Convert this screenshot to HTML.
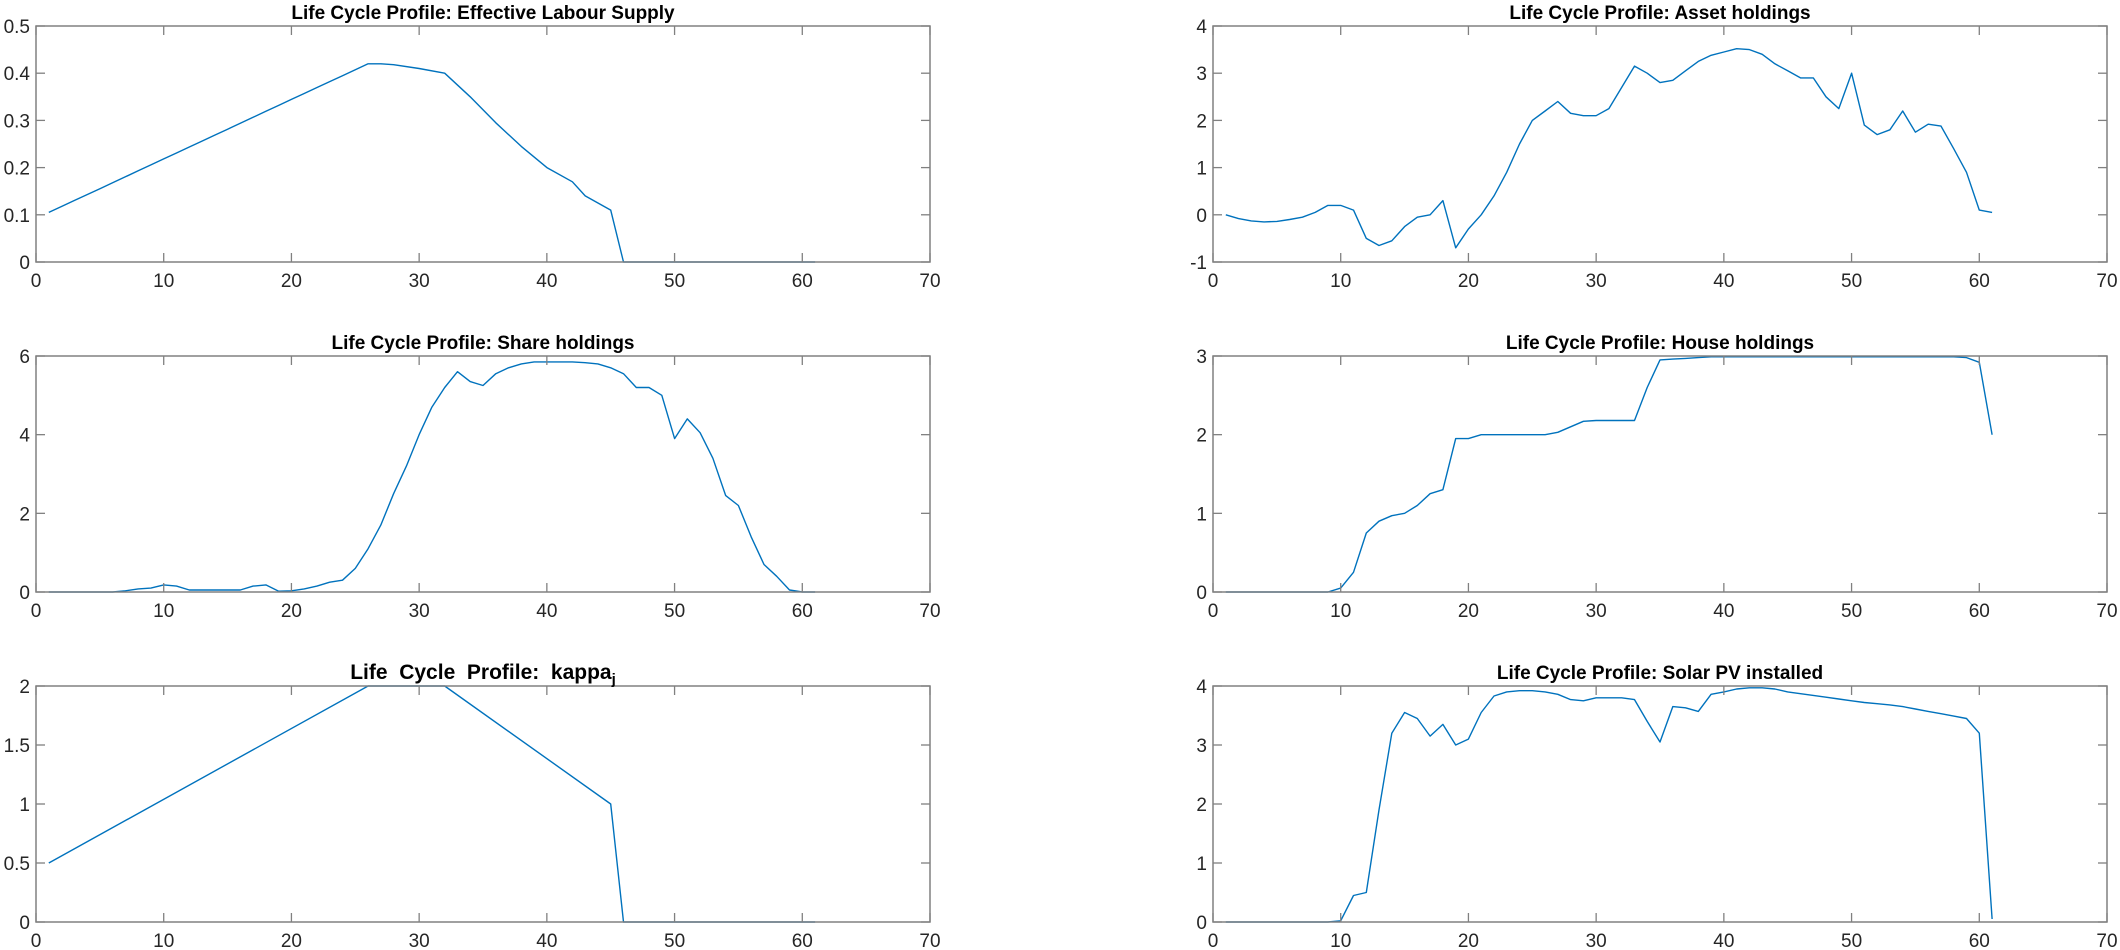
<!DOCTYPE html>
<html><head><meta charset="utf-8"><style>
html,body{margin:0;padding:0;background:#fff;}
svg{display:block;font-family:"Liberation Sans",Arial,sans-serif;}
</style></head><body>
<svg id="s" width="2120" height="950" xmlns="http://www.w3.org/2000/svg"></svg>
<script>
const S=document.getElementById('s');
const NS='http://www.w3.org/2000/svg';
function el(t,a,txt){const e=document.createElementNS(NS,t);for(const k in a)e.setAttribute(k,a[k]);if(txt!==undefined)e.textContent=txt;S.appendChild(e);return e;}
function rng(a,b,f){const r=[];for(let x=a;x<=b;x++)r.push([x,f(x)]);return r;}
const lab=[...rng(1,26,x=>0.105+(0.42-0.105)*(x-1)/25),[27,0.42],[28,0.418],[30,0.41],[32,0.40],[34,0.35],[36,0.295],[38,0.245],[40,0.20],[42,0.17],[43,0.14],[45,0.11],[46,0],[61,0]];
const kap=[[1,0.5],[26,2],[32,2],[45,1],[46,0],[61,0]];
const shv=[0,0,0,0,0,0,0.03,0.08,0.1,0.18,0.15,0.05,0.05,0.05,0.05,0.05,0.15,0.18,0.02,0.03,0.08,0.15,0.25,0.3,0.6,1.1,1.7,2.5,3.2,4.0,4.7,5.2,5.6,5.35,5.25,5.55,5.7,5.8,5.85,5.85,5.85,5.85,5.83,5.8,5.7,5.55,5.2,5.2,5.0,3.9,4.4,4.05,3.4,2.45,2.2,1.4,0.7,0.4,0.05,0,0];
const asv=[0,-0.08,-0.13,-0.15,-0.14,-0.1,-0.05,0.05,0.2,0.2,0.1,-0.5,-0.65,-0.55,-0.25,-0.05,0,0.3,-0.7,-0.3,0,0.4,0.9,1.5,2.0,2.2,2.4,2.15,2.1,2.1,2.25,2.7,3.15,3.0,2.8,2.85,3.05,3.25,3.38,3.45,3.52,3.5,3.4,3.2,3.05,2.9,2.9,2.5,2.25,3.0,1.9,1.7,1.8,2.2,1.75,1.92,1.88,1.4,0.9,0.1,0.05];
const hov=[0,0,0,0,0,0,0,0,0,0.05,0.25,0.75,0.9,0.97,1.0,1.1,1.25,1.3,1.95,1.95,2.0,2.0,2.0,2.0,2.0,2.0,2.03,2.1,2.17,2.18,2.18,2.18,2.18,2.6,2.95,2.96,2.97,2.98,2.99,2.99,2.99,2.99,2.99,2.99,2.99,2.99,2.99,2.99,2.99,2.99,2.99,2.99,2.99,2.99,2.99,2.99,2.99,2.99,2.98,2.92,2.0];
const sov=[0,0,0,0,0,0,0,0,0,0.02,0.45,0.5,1.9,3.2,3.55,3.45,3.15,3.35,3.0,3.1,3.55,3.83,3.9,3.92,3.92,3.9,3.86,3.77,3.75,3.8,3.8,3.8,3.77,3.4,3.05,3.65,3.63,3.57,3.86,3.9,3.95,3.97,3.97,3.95,3.9,3.87,3.84,3.81,3.78,3.75,3.72,3.7,3.68,3.65,3.61,3.57,3.53,3.49,3.45,3.2,0.05];
const arr=v=>v.map((y,i)=>[i+1,y]);
const plots=[
 {x:36,y:26,t:'Life Cycle Profile: Effective Labour Supply',y0:0,y1:0.5,yt:[0,0.1,0.2,0.3,0.4,0.5],d:lab},
 {x:1213,y:26,t:'Life Cycle Profile: Asset holdings',y0:-1,y1:4,yt:[-1,0,1,2,3,4],d:arr(asv)},
 {x:36,y:356,t:'Life Cycle Profile: Share holdings',y0:0,y1:6,yt:[0,2,4,6],d:arr(shv)},
 {x:1213,y:356,t:'Life Cycle Profile: House holdings',y0:0,y1:3,yt:[0,1,2,3],d:arr(hov)},
 {x:36,y:686,t:'kappa',y0:0,y1:2,yt:[0,0.5,1,1.5,2],d:kap},
 {x:1213,y:686,t:'Life Cycle Profile: Solar PV installed',y0:0,y1:4,yt:[0,1,2,3,4],d:arr(sov)},
];
const W=894,H=236,ax='#808080',tc='#262626';
plots.forEach(p=>{
 const X=v=>p.x+v/70*W, Y=v=>p.y+H-(v-p.y0)/(p.y1-p.y0)*H;
 const pts=p.d.map(([a,b])=>X(a).toFixed(1)+','+Y(b).toFixed(1)).join(' ');
 el('polyline',{points:pts,fill:'none',stroke:'#0072BD','stroke-width':1.4,'stroke-linejoin':'round'});
 el('rect',{x:p.x,y:p.y,width:W,height:H,fill:'none',stroke:ax,'stroke-width':1.5});
 for(let v=0;v<=70;v+=10){const xx=X(v);
  el('line',{x1:xx,y1:p.y+H,x2:xx,y2:p.y+H-9,stroke:ax,'stroke-width':1.3});
  el('line',{x1:xx,y1:p.y,x2:xx,y2:p.y+9,stroke:ax,'stroke-width':1.3});
  el('text',{x:xx,y:p.y+H+25,'text-anchor':'middle','font-size':19,fill:tc},String(v));}
 p.yt.forEach(v=>{const yy=Y(v);
  el('line',{x1:p.x,y1:yy,x2:p.x+9,y2:yy,stroke:ax,'stroke-width':1.3});
  el('line',{x1:p.x+W,y1:yy,x2:p.x+W-9,y2:yy,stroke:ax,'stroke-width':1.3});
  el('text',{x:p.x-6,y:yy+7,'text-anchor':'end','font-size':19,fill:tc},String(v));});
 const cx=p.x+W/2, ty=p.y-7;
 if(p.t==='kappa'){
  const t=el('text',{x:cx,y:ty,'text-anchor':'middle','font-size':21,'font-weight':'bold',fill:'#000'});
  t.textContent='Life\u00a0\u00a0Cycle\u00a0\u00a0Profile:\u00a0\u00a0kappa';
  const s=document.createElementNS(NS,'tspan');s.setAttribute('font-size','15');s.setAttribute('dy','5');s.textContent='j';t.appendChild(s);
 } else el('text',{x:cx,y:ty,'text-anchor':'middle','font-size':19,'font-weight':'bold',fill:'#000'},p.t);
});
</script>
</body></html>
